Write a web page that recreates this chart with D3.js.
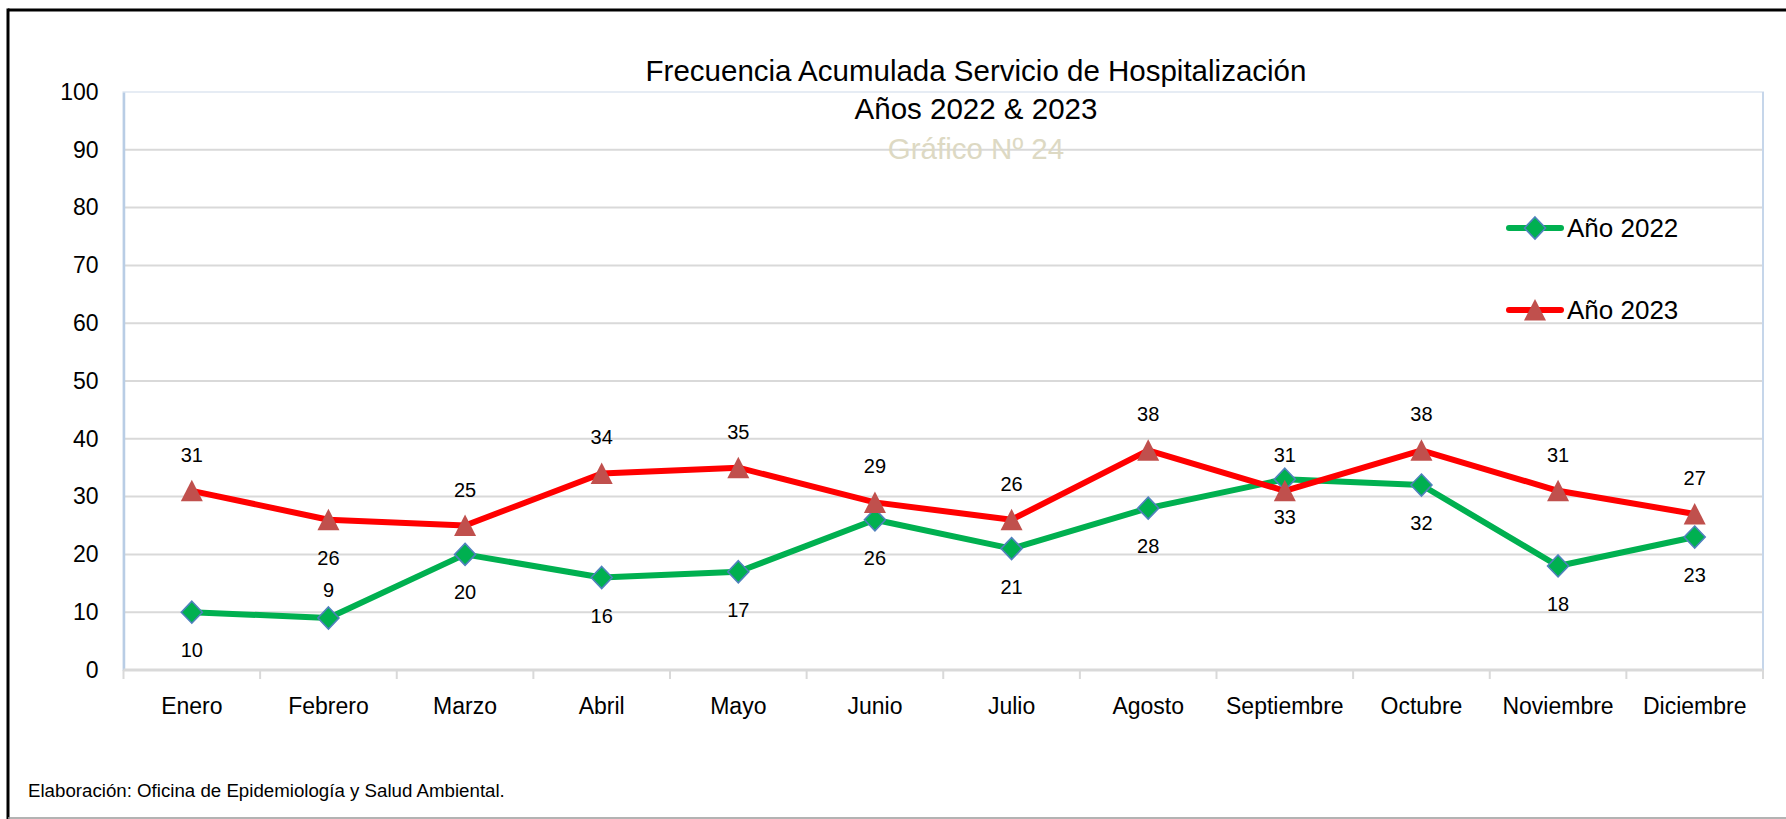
<!DOCTYPE html>
<html>
<head>
<meta charset="utf-8">
<script src="https://cdn.jsdelivr.net/npm/d3@7/dist/d3.min.js"></script>
<style>
  html, body { margin: 0; padding: 0; background: #ffffff; }
  svg { display: block; font-family: "Liberation Sans", Arial, sans-serif; }
</style>
</head>
<body>
<svg id="chart" width="1786" height="819"></svg>
<script>
const months = ["Enero","Febrero","Marzo","Abril","Mayo","Junio","Julio","Agosto","Septiembre","Octubre","Noviembre","Diciembre"];
const values2022 = [10, 9, 20, 16, 17, 26, 21, 28, 33, 32, 18, 23];
const values2023 = [31, 26, 25, 34, 35, 29, 26, 38, 31, 38, 31, 27];
const yTicks = [0, 10, 20, 30, 40, 50, 60, 70, 80, 90, 100];
const seriesNames = ["Año 2022", "Año 2023"];
const titleLines = ["Frecuencia Acumulada Servicio de Hospitalización", "Años 2022 & 2023"];
const subtitle = "Gráfico Nº 24";
const footer = "Elaboración: Oficina de Epidemiología y Salud Ambiental.";
// label placement (style): above / below the marker
const labelPos2022 = ["below","above","below","below","below","below","below","below","below","below","below","below"];
const labelPos2023 = ["above","below","above","above","above","above","above","above","above","above","above","above"];

const svg = d3.select("#chart");
const W = 1786, H = 819;
const plot = { left: 123.5, right: 1763, top: 92, bottom: 670 };

// outer frame
svg.append("line").attr("x1", 8).attr("x2", W).attr("y1", 10).attr("y2", 10)
  .attr("stroke", "#000").attr("stroke-width", 3);
svg.append("line").attr("x1", 8).attr("x2", 8).attr("y1", 8.5).attr("y2", H)
  .attr("stroke", "#000").attr("stroke-width", 3);
svg.append("line").attr("x1", 8).attr("x2", W).attr("y1", 818).attr("y2", 818)
  .attr("stroke", "#9a9a9a").attr("stroke-width", 1.5);

const x = d3.scaleBand().domain(months).range([plot.left, plot.right]).paddingInner(0).paddingOuter(0);
const cx = m => x(m) + x.bandwidth() / 2;
const y = d3.scaleLinear().domain([0, 100]).range([plot.bottom, plot.top]);

// plot area border
svg.append("rect").attr("x", plot.left).attr("y", plot.top)
  .attr("width", plot.right - plot.left).attr("height", plot.bottom - plot.top)
  .attr("fill", "#fff").attr("stroke", "#e6ecf4").attr("stroke-width", 2);

// gridlines
svg.append("g").selectAll("line").data(yTicks.filter(t => t > 0 && t < 100)).join("line")
  .attr("x1", plot.left).attr("x2", plot.right)
  .attr("y1", d => y(d)).attr("y2", d => y(d))
  .attr("stroke", "#d9d9d9").attr("stroke-width", 2);

// right edge of plot
svg.append("line").attr("x1", plot.right).attr("x2", plot.right)
  .attr("y1", plot.top).attr("y2", plot.bottom)
  .attr("stroke", "#c6d6ea").attr("stroke-width", 2);

// y axis
const yAxis = svg.append("g").attr("transform", `translate(${plot.left},0)`)
  .call(d3.axisLeft(y).tickValues(yTicks).tickSize(0).tickPadding(25));
yAxis.select(".domain").attr("stroke", "#b9cde5").attr("stroke-width", 2.5);
yAxis.selectAll("text").attr("font-size", 23).attr("fill", "#000")
  .attr("font-family", "Liberation Sans, Arial, sans-serif");

// x axis
const xAxis = svg.append("g").attr("transform", `translate(0,${plot.bottom})`)
  .call(d3.axisBottom(x).tickSize(0).tickPadding(28));
xAxis.select(".domain").remove();
xAxis.selectAll("text").attr("font-size", 23).attr("fill", "#000")
  .attr("font-family", "Liberation Sans, Arial, sans-serif");
svg.append("line").attr("x1", plot.left).attr("x2", plot.right)
  .attr("y1", plot.bottom).attr("y2", plot.bottom)
  .attr("stroke", "#d9d9d9").attr("stroke-width", 3);
const boundaries = months.map(m => x(m)).concat([plot.right]);
svg.append("g").selectAll("line").data(boundaries).join("line")
  .attr("x1", d => d).attr("x2", d => d)
  .attr("y1", plot.bottom).attr("y2", plot.bottom + 9)
  .attr("stroke", "#d9d9d9").attr("stroke-width", 2);

// lines
const line = d3.line().x((d, i) => cx(months[i])).y(d => y(d));
svg.append("path").datum(values2022).attr("d", line)
  .attr("fill", "none").attr("stroke", "#00b050").attr("stroke-width", 6)
  .attr("stroke-linejoin", "round").attr("stroke-linecap", "round");
svg.append("path").datum(values2023).attr("d", line)
  .attr("fill", "none").attr("stroke", "#ff0000").attr("stroke-width", 6)
  .attr("stroke-linejoin", "round").attr("stroke-linecap", "round");

// markers
const diamond = (g, px, py) => g.append("path")
  .attr("d", `M${px},${py - 11}L${px + 10.5},${py}L${px},${py + 11}L${px - 10.5},${py}Z`)
  .attr("fill", "#00b050").attr("stroke", "#4f81bd").attr("stroke-width", 1.6);
const triangle = (g, px, py) => g.append("path")
  .attr("d", `M${px},${py - 11}L${px + 11},${py + 10.5}L${px - 11},${py + 10.5}Z`)
  .attr("fill", "#c0504d");

const m22 = svg.append("g");
values2022.forEach((v, i) => diamond(m22, cx(months[i]), y(v)));
const m23 = svg.append("g");
values2023.forEach((v, i) => triangle(m23, cx(months[i]), y(v)));

// data labels
function labels(vals, pos) {
  svg.append("g").selectAll("text").data(vals).join("text")
    .attr("x", (d, i) => cx(months[i]))
    .attr("y", (d, i) => y(d) + (pos[i] === "above" ? (vals === values2022 ? -28 : -36) : 38))
    .attr("dy", "0.35em").attr("text-anchor", "middle")
    .attr("font-size", 20).attr("fill", "#000")
    .text(d => d);
}
labels(values2022, labelPos2022);
labels(values2023, labelPos2023);

// title
const tx = 976;
const tfs = 29.5;
svg.append("text").attr("x", tx).attr("y", 71).attr("dy", "0.35em").attr("text-anchor", "middle")
  .attr("font-size", tfs).attr("fill", "#000").text(titleLines[0]);
svg.append("text").attr("x", tx).attr("y", 109).attr("dy", "0.35em").attr("text-anchor", "middle")
  .attr("font-size", tfs).attr("fill", "#000").text(titleLines[1]);
svg.append("text").attr("x", tx).attr("y", 149).attr("dy", "0.35em").attr("text-anchor", "middle")
  .attr("font-size", tfs).attr("fill", "#ddd9c3").text(subtitle);

// legend
const legendY = [228, 310];
const legend = svg.append("g");
legendY.forEach((ly, i) => {
  legend.append("line").attr("x1", 1509).attr("x2", 1561).attr("y1", ly).attr("y2", ly)
    .attr("stroke", i === 0 ? "#00b050" : "#ff0000").attr("stroke-width", 6)
    .attr("stroke-linecap", "round");
  if (i === 0) diamond(legend, 1535, ly); else triangle(legend, 1535, ly);
  legend.append("text").attr("x", 1567).attr("y", ly).attr("dy", "0.35em")
    .attr("font-size", 26).attr("fill", "#000").text(seriesNames[i]);
});

// footer
svg.append("text").attr("x", 28).attr("y", 790).attr("dy", "0.35em")
  .attr("font-size", 18.7).attr("fill", "#000").text(footer);
</script>
</body>
</html>
